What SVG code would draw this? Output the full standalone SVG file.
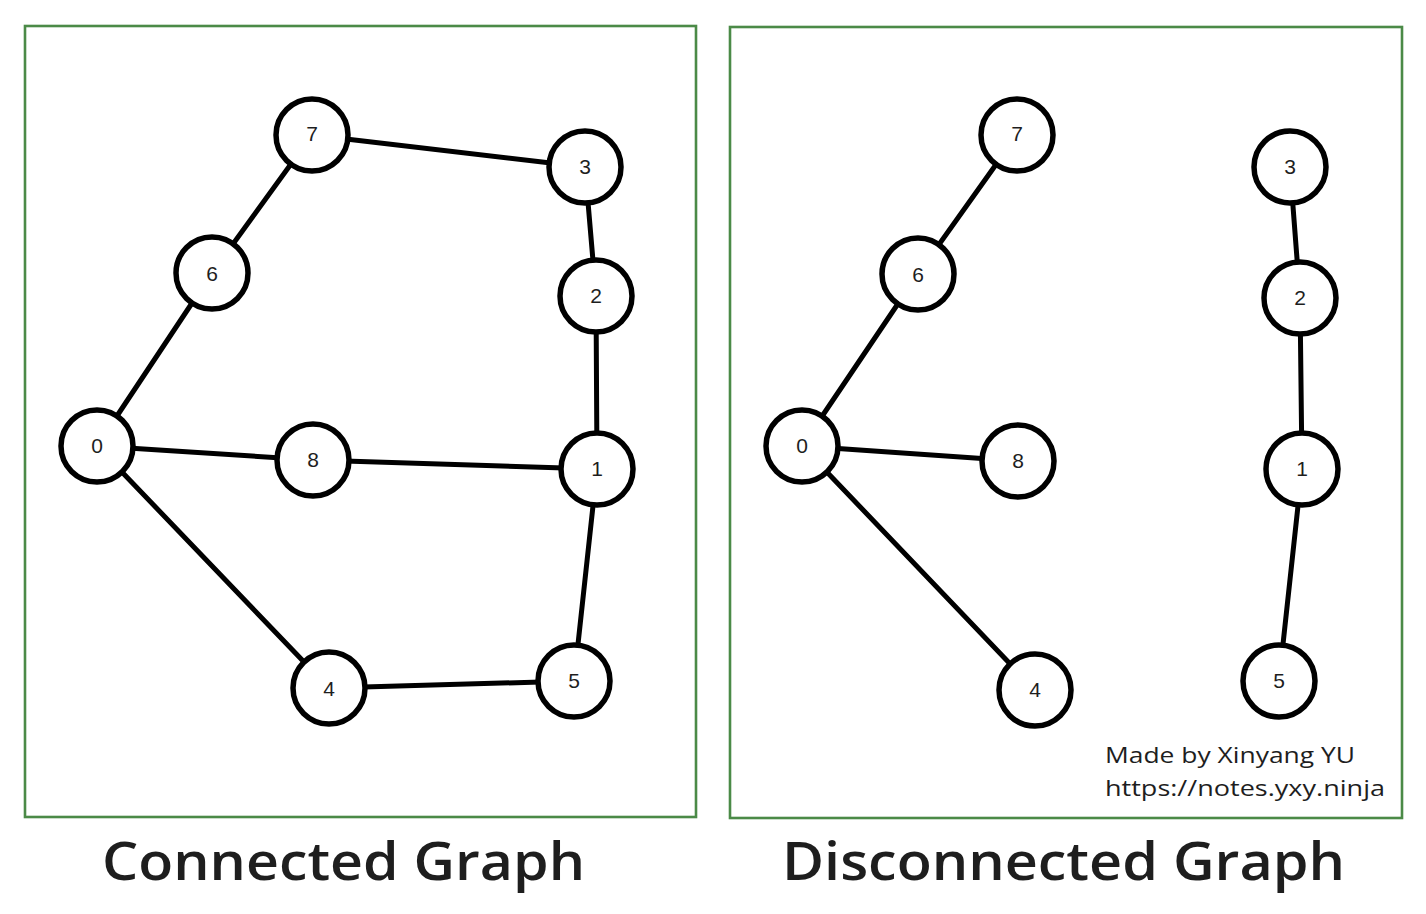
<svg xmlns="http://www.w3.org/2000/svg" width="1426" height="914" viewBox="0 0 1426 914">
<style>
.frame{fill:none;stroke:#4b8a47;stroke-width:2.6}
.edge{stroke:#000;stroke-width:5;stroke-linecap:round;fill:none}
.node circle{fill:#fff;stroke:#000;stroke-width:5.5}
.node text{font-family:"Liberation Sans",sans-serif;font-size:21px;fill:#1e1e1e;text-anchor:middle;dominant-baseline:central}
.title{font-family:"Open Sans","Liberation Sans",sans-serif;font-size:52px;font-weight:600;fill:#1e1e1e}
.note{font-family:"Open Sans","Liberation Sans",sans-serif;font-size:21px;fill:#1e1e1e}
</style>
<rect x="0" y="0" width="1426" height="914" fill="#fff"/>
<rect class="frame" x="25" y="26" width="671" height="791"/>
<rect class="frame" x="730" y="27" width="672" height="791"/>
<g id="connectors">
<line class="edge" x1="312" y1="135" x2="585" y2="167"/>
<line class="edge" x1="312" y1="135" x2="212" y2="273"/>
<line class="edge" x1="212" y1="273" x2="97" y2="446"/>
<line class="edge" x1="585" y1="167" x2="596" y2="296"/>
<line class="edge" x1="596" y1="296" x2="597" y2="469"/>
<line class="edge" x1="97" y1="446" x2="313" y2="460"/>
<line class="edge" x1="313" y1="460" x2="597" y2="469"/>
<line class="edge" x1="597" y1="469" x2="574" y2="681"/>
<line class="edge" x1="97" y1="446" x2="329" y2="688"/>
<line class="edge" x1="329" y1="688" x2="574" y2="681"/>
<line class="edge" x1="1017" y1="135" x2="918" y2="274"/>
<line class="edge" x1="918" y1="274" x2="802" y2="446"/>
<line class="edge" x1="802" y1="446" x2="1018" y2="461"/>
<line class="edge" x1="802" y1="446" x2="1035" y2="690"/>
<line class="edge" x1="1290" y1="167" x2="1300" y2="298"/>
<line class="edge" x1="1300" y1="298" x2="1302" y2="469"/>
<line class="edge" x1="1302" y1="469" x2="1279" y2="681"/>
</g>
<g id="L7" class="node"><circle cx="312" cy="135" r="36"/><text x="312" y="133">7</text></g>
<g id="L3" class="node"><circle cx="585" cy="167" r="36"/><text x="585" y="166">3</text></g>
<g id="L6" class="node"><circle cx="212" cy="273" r="36"/><text x="212" y="273">6</text></g>
<g id="L2" class="node"><circle cx="596" cy="296" r="36"/><text x="596" y="295">2</text></g>
<g id="L0" class="node"><circle cx="97" cy="446" r="36"/><text x="97" y="445">0</text></g>
<g id="L8" class="node"><circle cx="313" cy="460" r="36"/><text x="313" y="459">8</text></g>
<g id="L1" class="node"><circle cx="597" cy="469" r="36"/><text x="597" y="468">1</text></g>
<g id="L4" class="node"><circle cx="329" cy="688" r="36"/><text x="329" y="688">4</text></g>
<g id="L5" class="node"><circle cx="574" cy="681" r="36"/><text x="574" y="680">5</text></g>
<g id="R7" class="node"><circle cx="1017" cy="135" r="36"/><text x="1017" y="133">7</text></g>
<g id="R3" class="node"><circle cx="1290" cy="167" r="36"/><text x="1290" y="166">3</text></g>
<g id="R6" class="node"><circle cx="918" cy="274" r="36"/><text x="918" y="274">6</text></g>
<g id="R2" class="node"><circle cx="1300" cy="298" r="36"/><text x="1300" y="297">2</text></g>
<g id="R0" class="node"><circle cx="802" cy="446" r="36"/><text x="802" y="445">0</text></g>
<g id="R8" class="node"><circle cx="1018" cy="461" r="36"/><text x="1018" y="460">8</text></g>
<g id="R1" class="node"><circle cx="1302" cy="469" r="36"/><text x="1302" y="468">1</text></g>
<g id="R4" class="node"><circle cx="1035" cy="690" r="36"/><text x="1035" y="689">4</text></g>
<g id="R5" class="node"><circle cx="1279" cy="681" r="36"/><text x="1279" y="680">5</text></g>
<text class="note" x="1105" y="763" textLength="250" lengthAdjust="spacingAndGlyphs">Made by Xinyang YU</text>
<text class="note" x="1105" y="796" textLength="280" lengthAdjust="spacingAndGlyphs">https://notes.yxy.ninja</text>
<text class="title" x="102" y="880" textLength="483" lengthAdjust="spacingAndGlyphs">Connected Graph</text>
<text class="title" x="782" y="880" textLength="563" lengthAdjust="spacingAndGlyphs">Disconnected Graph</text>
</svg>
